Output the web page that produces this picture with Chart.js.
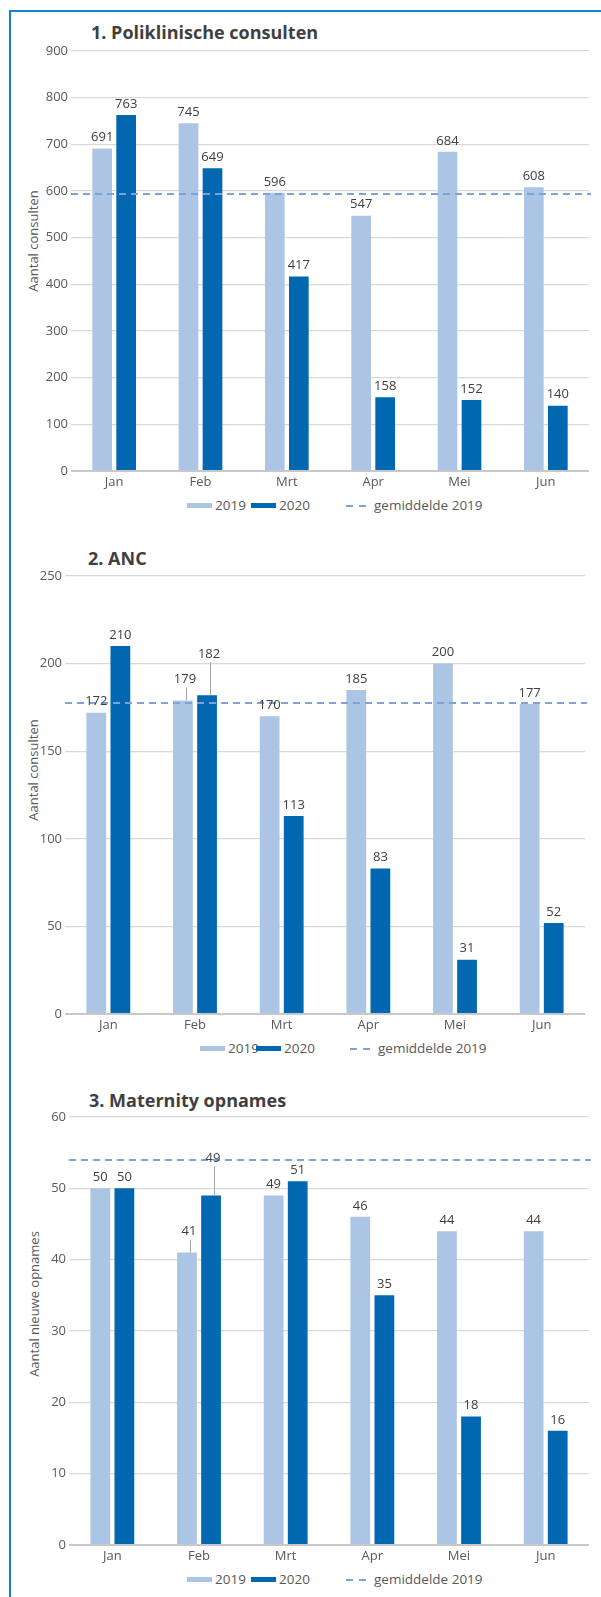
<!DOCTYPE html>
<html>
<head>
<meta charset="utf-8">
<script src="https://cdn.jsdelivr.net/npm/chart.js@4.4.1/dist/chart.umd.min.js"></script>
<style>
    body { margin: 0; background: #fff; width: 601px; height: 1597px; overflow: hidden; position: relative; font-family: "Open Sans", sans-serif; }
    .frame { position: absolute; left: 9px; top: 10px; right: 0; bottom: 0; border-left: 2px solid #1580d6; border-top: 2px solid #1580d6; }
    .title { position: absolute; font-weight: bold; font-size: 18px; line-height: 24px; color: #3f3f3f; white-space: nowrap; }
    .ytitle { position: absolute; font-size: 13px; color: #595959; white-space: nowrap; transform: translate(-50%, -50%) rotate(-90deg); }
    canvas { position: absolute; left: 0; }
    .lg { position: absolute; font-size: 13.5px; line-height: 18px; color: #595959; white-space: nowrap; }
    .sw { position: absolute; width: 25px; height: 5px; }
    .dash { position: absolute; width: 20px; height: 2px; background: repeating-linear-gradient(90deg, #7ea1d8 0 7px, transparent 7px 13px); }
</style>
</head>
<body>
<div class="frame"></div>

<div class="title" style="left:91px; top:20px">1. Poliklinische consulten</div>
<div class="ytitle" style="left:33px; top:241px">Aantal consulten</div>
<canvas id="chart1" width="601" height="452" style="top:39px"></canvas>
<div id="legend1"></div>

<div class="title" style="left:88px; top:546px">2. ANC</div>
<div class="ytitle" style="left:33px; top:770px">Aantal consulten</div>
<canvas id="chart2" width="601" height="470" style="top:564px"></canvas>
<div id="legend2"></div>

<div class="title" style="left:89px; top:1088px">3. Maternity opnames</div>
<div class="ytitle" style="left:34px; top:1304px">Aantal nieuwe opnames</div>
<canvas id="chart3" width="601" height="460" style="top:1105px"></canvas>
<div id="legend3"></div>

<script>
const months = ["Jan", "Feb", "Mrt", "Apr", "Mei", "Jun"];

// 1. Poliklinische consulten
const consults2019 = [691, 745, 596, 547, 684, 608];
const consults2020 = [763, 649, 417, 158, 152, 140];
const consultsAvg2019 = 593;
const consultsTicks = [0, 100, 200, 300, 400, 500, 600, 700, 800, 900];

// 2. ANC
const anc2019 = [172, 179, 170, 185, 200, 177];
const anc2020 = [210, 182, 113, 83, 31, 52];
const ancAvg2019 = 177.5;
const ancTicks = [0, 50, 100, 150, 200, 250];

// 3. Maternity opnames
const maternity2019 = [50, 41, 49, 46, 44, 44];
const maternity2020 = [50, 49, 51, 35, 18, 16];
const maternityAvg2019 = 54;
const maternityTicks = [0, 10, 20, 30, 40, 50, 60];

const light = "#adc5e5";
const dark = "#0067b0";
const avgColor = "#7ea1d8";

// dashed 2019 average across the whole plot area
const averageLine = {
    id: "averageLine",
    afterDatasetsDraw(chart, args, opts)
    {
        const {ctx, chartArea} = chart;
        const y = Math.round(chart.scales.y.getPixelForValue(opts.value));
        ctx.save();
        ctx.strokeStyle = avgColor;
        ctx.lineWidth = 2;
        ctx.setLineDash([7, 5]);
        ctx.beginPath();
        ctx.moveTo(chartArea.left, y);
        ctx.lineTo(chartArea.right + 2, y);
        ctx.stroke();
        ctx.restore();
    }
};

// draws the value above each bar, some lifted with a leader line
const valueLabels = {
    id: "valueLabels",
    afterDatasetsDraw(chart, args, opts)
    {
        const ctx = chart.ctx;
        ctx.save();
        ctx.font = "13px 'Open Sans'";
        ctx.fillStyle = "#404040";
        ctx.textAlign = "center";
        ctx.textBaseline = "middle";
        chart.data.datasets.forEach((ds, di) => {
            const lift = (opts.lift && opts.lift[ds.label]) || [];
            chart.getDatasetMeta(di).data.forEach((bar, i) => {
                const up = lift[i] || 0;
                const x = bar.x + (up ? 2 : 0);
                const y = bar.y - 11 - up;
                if (up)
                {
                    ctx.strokeStyle = "#a6a6a6";
                    ctx.lineWidth = 1;
                    ctx.beginPath();
                    ctx.moveTo(Math.round(x) + 1.5, y + 8);
                    ctx.lineTo(Math.round(x) + 1.5, bar.y);
                    ctx.stroke();
                }
                ctx.fillText(ds.data[i], x, y);
            });
        });
        ctx.restore();
    }
};

function generateBarChart(elem, {labels, data2019, data2020, average, ticks, plotLeft, plotRight, lift = {}})
{
    try
    {
        const config = {
            type: "bar",
            data: {
                labels: labels,
                datasets: [{
                    label: "2019",
                    data: data2019,
                    backgroundColor: light,
                    categoryPercentage: 0.556,
                    barPercentage: 0.82
                }, {
                    label: "2020",
                    data: data2020,
                    backgroundColor: dark,
                    categoryPercentage: 0.556,
                    barPercentage: 0.82
                }]
            },
            options: {
                responsive: false,
                devicePixelRatio: 1,
                animation: false,
                layout: {padding: {top: 12, right: 601 - plotRight, left: 0, bottom: 0}},
                plugins: {
                    legend: {display: false},
                    tooltip: {enabled: false},
                    averageLine: {value: average},
                    valueLabels: {lift: lift}
                },
                scales: {
                    x: {
                        grid: {display: false, drawTicks: false},
                        border: {display: false},
                        ticks: {color: "#595959", font: {family: "Open Sans", size: 13}, padding: 3, maxRotation: 0},
                        afterFit: (scale) => { scale.height = 20; }
                    },
                    y: {
                        min: ticks[0],
                        max: ticks[ticks.length - 1],
                        border: {display: false},
                        grid: {
                            drawTicks: false,
                            color: (c) => c.tick && c.tick.value === 0 ? "#c8c8c8" : "#d9d9d9",
                            lineWidth: (c) => c.tick && c.tick.value === 0 ? 2 : 1.3
                        },
                        ticks: {
                            stepSize: ticks[1] - ticks[0],
                            color: "#595959",
                            font: {family: "Open Sans", size: 13},
                            padding: 3
                        },
                        afterFit: (scale) => { scale.width = plotLeft; }
                    }
                }
            },
            plugins: [averageLine, valueLabels]
        };

        const myChart = new Chart(elem, config);
        myChart.update();
        return true;
    }
    catch (e)
    {
        console.error(e.message);
    }
    return false;
}

function buildLegend(elem, {top, left2019, left2020, leftAvg})
{
    const items = [
        `<div class="sw" style="left:${left2019}px; top:${top - 2}px; background:${light}"></div>`,
        `<div class="lg" style="left:${left2019 + 28}px; top:${top - 9}px">2019</div>`,
        `<div class="sw" style="left:${left2020}px; top:${top - 2}px; background:${dark}"></div>`,
        `<div class="lg" style="left:${left2020 + 28}px; top:${top - 9}px">2020</div>`,
        `<div class="dash" style="left:${leftAvg}px; top:${top}px"></div>`,
        `<div class="lg" style="left:${leftAvg + 28}px; top:${top - 9}px">gemiddelde 2019</div>`
    ];
    elem.innerHTML = items.join("");
}

generateBarChart(document.getElementById("chart1"), {
    labels: months, data2019: consults2019, data2020: consults2020,
    average: consultsAvg2019, ticks: consultsTicks, plotLeft: 71, plotRight: 589
});
generateBarChart(document.getElementById("chart2"), {
    labels: months, data2019: anc2019, data2020: anc2020,
    average: ancAvg2019, ticks: ancTicks, plotLeft: 65, plotRight: 585,
    lift: {"2019": [0, 10, 0, 0, 0, 0], "2020": [0, 30, 0, 0, 0, 0]}
});
generateBarChart(document.getElementById("chart3"), {
    labels: months, data2019: maternity2019, data2020: maternity2020,
    average: maternityAvg2019, ticks: maternityTicks, plotLeft: 69, plotRight: 589,
    lift: {"2019": [0, 10, 0, 0, 0, 0], "2020": [0, 26, 0, 0, 0, 0]}
});

buildLegend(document.getElementById("legend1"), {top: 505, left2019: 187, left2020: 251, leftAvg: 346});
buildLegend(document.getElementById("legend2"), {top: 1048, left2019: 200, left2020: 256, leftAvg: 350});
buildLegend(document.getElementById("legend3"), {top: 1579, left2019: 187, left2020: 251, leftAvg: 346});
</script>
</body>
</html>
